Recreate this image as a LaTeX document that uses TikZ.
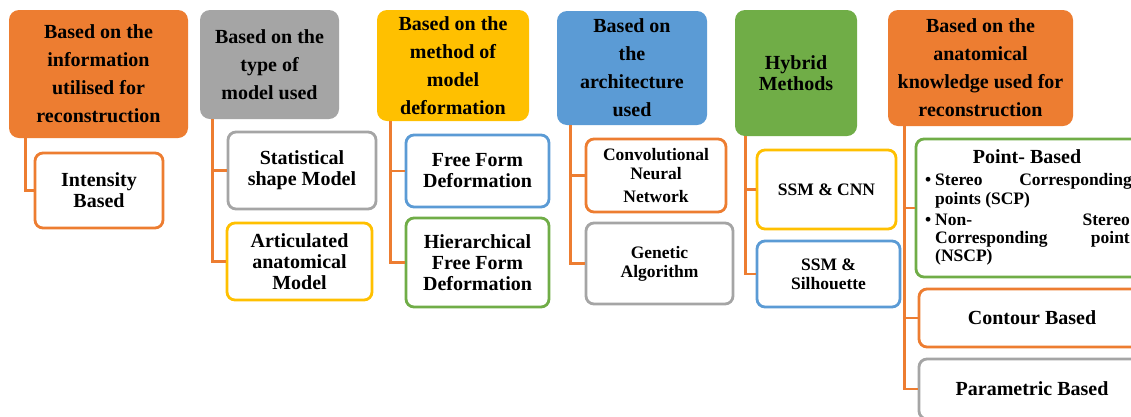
\documentclass[tikz,border=0pt]{standalone}
\usepackage{fontspec}
\setmainfont{Liberation Serif}
\definecolor{cOr}{HTML}{ED7D31}
\definecolor{cGr}{HTML}{A5A5A5}
\definecolor{cYe}{HTML}{FFC000}
\definecolor{cBl}{HTML}{5B9BD5}
\definecolor{cGn}{HTML}{70AD47}
\tikzset{
  hdr/.style={rounded corners=10pt, align=center, inner sep=0pt, text=black,
    font=\bfseries\fontsize{20}{28}\selectfont},
  sub/.style={draw, line width=2.8pt, fill=white, rounded corners=8pt, align=center,
    inner sep=0pt, text=black, font=\bfseries\fontsize{20}{21}\selectfont},
  smalltxt/.style={font=\bfseries\fontsize{17.5}{19}\selectfont},
  bul/.style={inner sep=0pt, font=\bfseries\fontsize{17.5}{19}\selectfont},
  conn/.style={draw=cOr, line width=2.8pt},
}
\begin{document}
\begin{tikzpicture}[x=1pt,y=-1pt]
\useasboundingbox (0,0) rectangle (1131,416);
\clip (0,0) rectangle (1131,416);
\fill[white] (0,0) rectangle (1131,416);

% column 1
\node[hdr, fill=cOr, minimum width=179pt, minimum height=128pt] (h1) at (98.5,74)
  {Based on the\\information\\utilised for\\reconstruction};
\node[sub, draw=cOr, minimum width=128pt, minimum height=75pt] (i1) at (99,190.5)
  {Intensity\\Based};
\draw[conn] ([xshift=17pt]h1.south west) |- (i1.west);

% column 2
\node[hdr, fill=cGr, minimum width=139pt, minimum height=109pt] (h2) at (269.5,64.5)
  {Based on the\\type of\\model used};
\node[sub, draw=cGr, minimum width=148pt, minimum height=77pt] (s2a) at (302,170.5)
  {Statistical\\shape Model};
\node[sub, draw=cYe, minimum width=145pt, minimum height=77pt] (s2b) at (299.5,261.5)
  {Articulated\\anatomical\\Model};
\draw[conn] ([xshift=13pt]h2.south west) |- (s2b.west);
\draw[conn] ([xshift=13pt]h2.south west) |- (s2a.west);

% column 3
\node[hdr, fill=cYe, minimum width=152pt, minimum height=111pt] (h3) at (453,65.5)
  {Based on the\\method of\\model\\deformation};
\node[sub, draw=cBl, minimum width=143pt, minimum height=72pt] (s3a) at (477.5,171)
  {Free Form\\Deformation};
\node[sub, draw=cGn, minimum width=143pt, minimum height=89pt] (s3b) at (477.5,262.5)
  {Hierarchical\\Free Form\\Deformation};
\draw[conn] ([xshift=14pt]h3.south west) |- (s3b.west);
\draw[conn] ([xshift=14pt]h3.south west) |- (s3a.west);

% column 4
\node[hdr, fill=cBl, minimum width=150pt, minimum height=114pt] (h4) at (632,68)
  {Based on\\the\\architecture\\used};
\node[sub, smalltxt, draw=cOr, minimum width=140pt, minimum height=73pt] (s4a) at (656,175.5)
  {Convolutional\\Neural\\[4pt]Network};
\node[sub, smalltxt, draw=cGr, minimum width=147pt, minimum height=81pt] (s4b) at (659.5,263.5)
  {Genetic\\Algorithm};
\draw[conn] ([xshift=14pt]h4.south west) |- (s4b.west);
\draw[conn] ([xshift=14pt]h4.south west) |- (s4a.west);

% column 5
\node[hdr, fill=cGn, minimum width=122pt, minimum height=126pt,
  font=\bfseries\fontsize{20}{21}\selectfont] (h5) at (796,73)
  {Hybrid\\Methods};
\node[sub, smalltxt, draw=cYe, minimum width=139pt, minimum height=79pt] (s5a) at (826.5,189.5)
  {SSM \& CNN};
\node[sub, smalltxt, draw=cBl, minimum width=143pt, minimum height=66pt] (s5b) at (828.5,274)
  {SSM \&\\Silhouette};
\draw[conn] ([xshift=11pt]h5.south west) |- (s5b.west);
\draw[conn] ([xshift=11pt]h5.south west) |- (s5a.west);

% column 6
\node[hdr, fill=cOr, minimum width=185pt, minimum height=116pt] (h6) at (980.5,68)
  {Based on the\\anatomical\\knowledge used for\\reconstruction};
\node[sub, draw=cGn, minimum width=229pt, minimum height=138pt] (s6a) at (1030.5,208) {};
\node[sub, draw=cOr, minimum width=226pt, minimum height=58pt] (s6b) at (1032,318)
  {Contour Based};
\node[sub, draw=cGr, minimum width=226pt, minimum height=60pt] (s6c) at (1032,389)
  {Parametric Based};
\draw[conn] ([xshift=17pt]h6.south west) |- (s6c.west);
\draw[conn] ([xshift=17pt]h6.south west) |- (s6b.west);
\draw[conn] ([xshift=17pt]h6.south west) |- (s6a.west);

% point-based contents
\node[inner sep=0pt, font=\bfseries\fontsize{20}{21}\selectfont] (pt) at (1027,157) {Point- Based};
\node[bul, anchor=mid west] (b1) at (925,183) {\textbullet};
\node[bul, anchor=mid west] (l1a) at (935,183) {Stereo};
\node[bul, anchor=mid east] (l1b) at (1132,183) {Corresponding};
\node[bul, anchor=mid west] (l2) at (935,202) {points (SCP)};
\node[bul, anchor=mid west] (b2) at (925,223) {\textbullet};
\node[bul, anchor=mid west] (l3a) at (935,223) {Non-};
\node[bul, anchor=mid east] (l3b) at (1130,223) {Stereo};
\node[bul, anchor=mid west] (l4a) at (935,241) {Corresponding};
\node[bul, anchor=mid east] (l4b) at (1130,241) {point};
\node[bul, anchor=mid west] (l5) at (935,259) {(NSCP)};
\end{tikzpicture}
\end{document}
